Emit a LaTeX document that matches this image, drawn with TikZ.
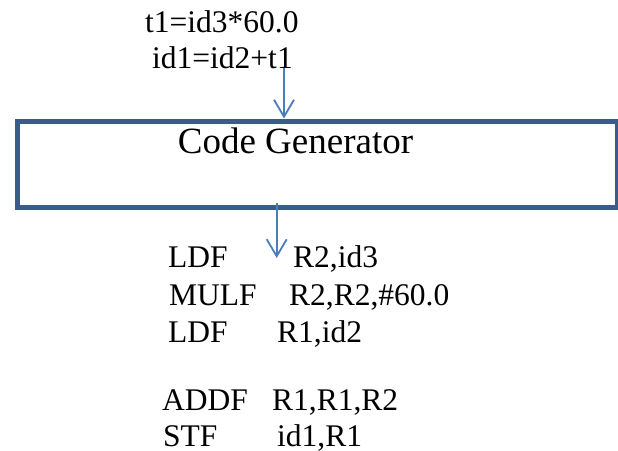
\documentclass[tikz,border=0pt]{standalone}
\usepackage{fontspec}
\setmainfont{Liberation Serif}
\usepackage{tikz}
\usetikzlibrary{arrows.meta, calc, positioning}
\definecolor{boxblue}{HTML}{385D8A}
\definecolor{arrowblue}{HTML}{4A7EBB}

\tikzset{
  code/.style={anchor=base west, inner sep=0pt, font=\fontsize{31.5}{36}\selectfont},
  genbox/.style={draw=boxblue, line width=5pt, minimum width=600pt, minimum height=86.5pt, inner sep=0pt},
  flow/.style={draw=arrowblue, line width=1.8pt, -{Straight Barb[length=17pt, width=20pt]}}
}

\begin{document}
\begin{tikzpicture}[x=1pt, y=-1pt]

            % Kích thước khung
            \useasboundingbox (0,0) rectangle (618,450);

            % Mã trung gian
            \node[code] (tone) at (145,32) {t1=id3*60.0};
            \node[code] (idone) at (152,68) {id1=id2+t1};

            % Khối sinh mã
            \node[genbox] (gen) at (317.5,164.25) {};
            \node[anchor=base, inner sep=0pt, font=\fontsize{37}{42}\selectfont] (gentext) at (295.5,153) {Code Generator};

            % Vẽ mũi tên vào và ra
            \coordinate (in) at (284,68);
            \coordinate (out) at (276.7,203);
            \coordinate (outend) at (276.7,258);
            \draw[flow] (in) -- (in |- gen.north);
            \draw[flow] (out) -- (outend);

            % Mã đích
            \node[code] (ldfa) at (168,267) {LDF};
            \node[code] (ldfaarg) at (293,267) {R2,id3};
            \node[code] (mulf) at (169,305) {MULF};
            \node[code] (mulfarg) at (289,305) {R2,R2,\#60.0};
            \node[code] (ldfb) at (168,342) {LDF};
            \node[code] (ldfbarg) at (277,342) {R1,id2};
            \node[code] (addf) at (162,410) {ADDF};
            \node[code] (addfarg) at (272,410) {R1,R1,R2};
            \node[code] (stf) at (163,446.5) {STF};
            \node[code] (stfarg) at (277,446.5) {id1,R1};

            \end{tikzpicture}
\end{document}
